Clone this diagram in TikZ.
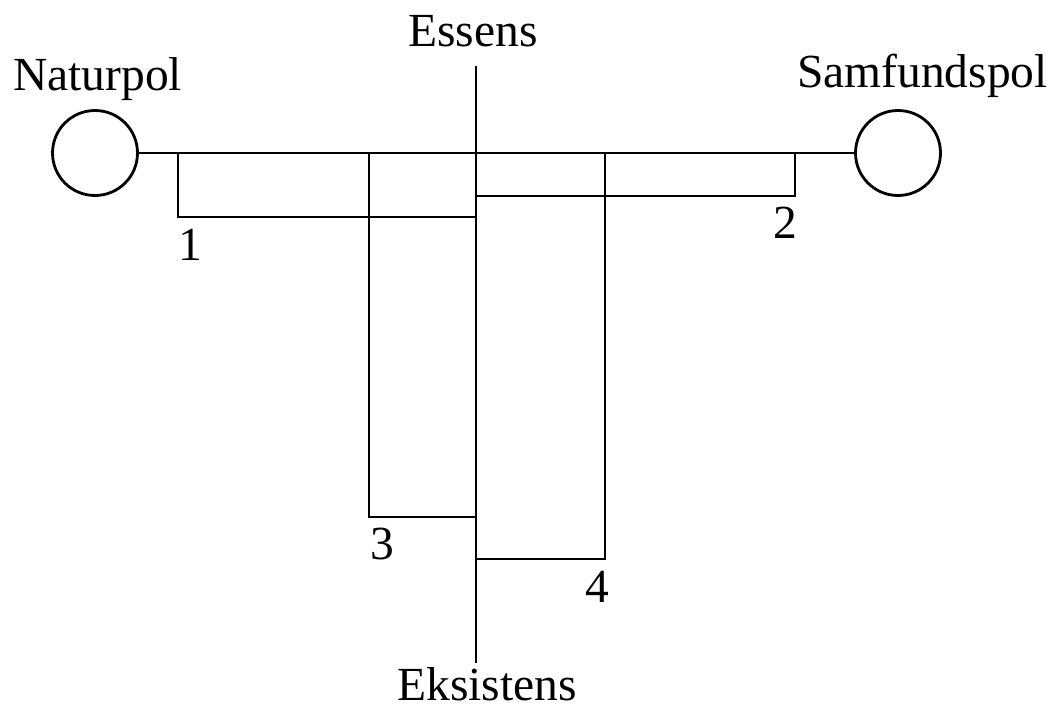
\documentclass[tikz,border=0pt]{standalone}
\usepackage{fontspec}
\setmainfont{Liberation Serif}
\begin{document}
\begin{tikzpicture}[x=1pt,y=-1pt,
  ln/.style={line width=2.8pt, line cap=rect},
  pole/.style={draw, circle, line width=2.8pt, minimum size=85pt, inner sep=0pt},
  lbl/.style={font=\fontsize{47.5}{56}\selectfont, inner sep=0pt}]
\useasboundingbox (0,0) rectangle (1062,709);
% poles
\node[pole] (natur) at (95,153) {};
\node[pole] (samf) at (898,153) {};
% labels
\node[lbl, anchor=base west] (tnatur) at (13,90) {Naturpol};
\node[lbl, anchor=base west] (tsamf) at (797,88) {Samfundspol};
\node[lbl, anchor=base west] (tess) at (408,47) {Essens};
\node[lbl, anchor=base] (teks) at (487,700) {Eksistens};
\node[lbl, anchor=base] (n1) at (190,260) {1};
\node[lbl, anchor=base] (n2) at (785,238) {2};
\node[lbl, anchor=base] (n3) at (382,559) {3};
\node[lbl, anchor=base] (n4) at (597,602) {4};
% axis coordinates
\coordinate (vtop) at (476,67);
\coordinate (vbot) at (476,662);
\coordinate (a1) at (178,153);
\coordinate (b1) at (178,217);
\coordinate (c1) at (476,217);
\coordinate (a2) at (476,196);
\coordinate (b2) at (795,196);
\coordinate (c2) at (795,153);
\coordinate (a3) at (369,153);
\coordinate (b3) at (369,517);
\coordinate (c3) at (476,517);
\coordinate (a4) at (476,559);
\coordinate (b4) at (605,559);
\coordinate (c4) at (605,153);
% lines
\draw[line width=2.8pt] (natur.east) -- (samf.west);
\draw[ln] (vtop) -- (vbot);
\draw[ln] (a1) -- (b1) -- (c1);
\draw[ln] (a2) -- (b2) -- (c2);
\draw[ln] (a3) -- (b3) -- (c3);
\draw[ln] (a4) -- (b4) -- (c4);
\end{tikzpicture}
\end{document}
